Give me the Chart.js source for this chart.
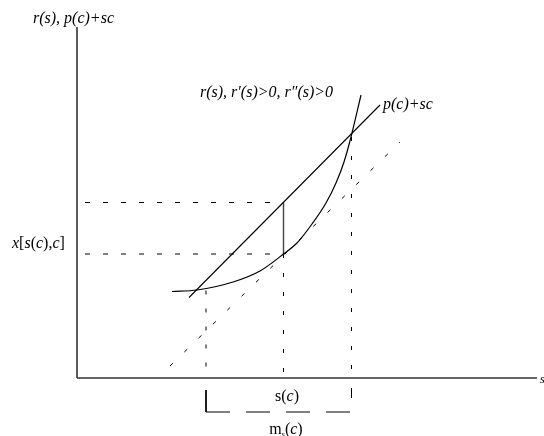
<!DOCTYPE html>
<html>
<head>
<meta charset="utf-8">
<script src="https://cdn.jsdelivr.net/npm/chart.js@4"></script>
<style>
  body { margin: 0; background: #fff; }
  canvas { display: block; }
</style>
</head>
<body>
<canvas id="myChart" width="544" height="436"></canvas>
<script>
// r(s): convex cost curve
const sValues = [9.5, 12.0, 15.6, 18.3, 20.65, 22.0, 23.5, 24.9, 25.9, 26.7, 27.4, 28.4];
const rValues = [8.65, 8.8, 9.6, 10.7, 12.4, 13.5, 15.4, 17.5, 19.5, 21.6, 24.1, 28.3];

// p(c)+sc straight line and its parallel tangent
const lineS = [11.2, 30.3];
const lineV = [8.05, 27.3];
const tangentS = [9.3, 32.3];
const tangentV = [1.2, 23.6];

// key points
const sc = 20.65;          // s(c)
const rAtSc = 12.4;        // r(s(c))
const lineAtSc = 17.55;    // p(c)+s(c)c
const sLow = 12.9;         // left intersection
const rLow = 8.75;
const sHigh = 27.45;       // right intersection
const rHigh = 24.1;
const sMax = 46.0;
const vMax = 35.1;
const bracketY = -3.4;

const pts = (xs, ys) => xs.map((x, i) => ({ x: x, y: ys[i] }));

const black = "#000";
const axisColor = "#333";

const datasets = [
  { data: pts([0, sMax], [0, 0]), borderColor: axisColor, borderWidth: 1.6 },
  { data: pts([0, 0], [0, vMax]), borderColor: axisColor, borderWidth: 1.6 },
  { data: pts(sValues, rValues), borderColor: black, borderWidth: 1.2, cubicInterpolationMode: "monotone" },
  { data: pts(lineS, lineV), borderColor: black, borderWidth: 1.1 },
  { data: pts(tangentS, tangentV), borderColor: black, borderWidth: 1, borderDash: [4, 16] },
  { data: pts([0.8, sc], [lineAtSc, lineAtSc]), borderColor: black, borderWidth: 1, borderDash: [5, 13] },
  { data: pts([0.8, sc], [rAtSc, rAtSc]), borderColor: black, borderWidth: 1, borderDash: [5, 13] },
  { data: pts([sc, sc], [rAtSc, lineAtSc]), borderColor: "#444", borderWidth: 1.4 },
  { data: pts([sc, sc], [rAtSc, -0.4]), borderColor: black, borderWidth: 1, borderDash: [4, 15] },
  { data: pts([sLow, sLow], [rLow, 0]), borderColor: black, borderWidth: 1, borderDash: [4, 14] },
  { data: pts([sHigh, sHigh], [rHigh, 0]), borderColor: black, borderWidth: 1, borderDash: [4, 15] },
  { data: pts([sLow, sLow], [-1.2, bracketY]), borderColor: black, borderWidth: 1 },
  { data: pts([sHigh, sHigh], [-1.0, -2.0]), borderColor: black, borderWidth: 1 },
  { data: pts([sLow, sHigh], [bracketY, bracketY]), borderColor: black, borderWidth: 1, borderDash: [24, 16] },
];
datasets.forEach((d) => {
  d.showLine = true;
  d.pointRadius = 0;
  d.fill = false;
});

const serif = "'Liberation Serif', 'DejaVu Serif', serif";
const it = (t, size) => [t, "italic " + (size || 16) + "px " + serif];
const up = (t, size, dy) => [t, (size || 16) + "px " + serif, dy];

const labels = [
  { x: -4.4, y: 36.0, align: "left", segs: [it("r(s), p(c)+sc")] },
  { x: 12.3, y: 28.6, align: "left", segs: [it("r(s), r\u2032(s)>0, r\u2033(s)>0")] },
  { x: 30.6, y: 27.4, align: "left", segs: [it("p(c)+sc")] },
  { x: -6.5, y: 13.5, align: "left", segs: [it("x"), up("["), it("s"), up("("), it("c"), up("),"), it("c"), up("]")] },
  { x: 21.0, y: -1.8, align: "center", segs: [up("s("), it("c"), up(")")] },
  { x: 20.9, y: -5.1, align: "center", segs: [up("m"), up("s", 8, 5), up("("), it("c"), up(")")] },
  { x: 46.3, y: -0.1, align: "left", segs: [it("s", 12)] },
];

const textPlugin = {
  id: "textLabels",
  afterDraw(chart) {
    const ctx = chart.ctx;
    const xs = chart.scales.x;
    const ys = chart.scales.y;
    ctx.save();
    ctx.fillStyle = "#000";
    ctx.textBaseline = "middle";
    ctx.textAlign = "left";
    labels.forEach((lb) => {
      let w = 0;
      lb.segs.forEach((s) => {
        ctx.font = s[1];
        w += ctx.measureText(s[0]).width;
      });
      let px = xs.getPixelForValue(lb.x);
      const py = ys.getPixelForValue(lb.y);
      if (lb.align === "center") px -= w / 2;
      lb.segs.forEach((s) => {
        ctx.font = s[1];
        ctx.fillText(s[0], px, py + 1 + (s[2] || 0));
        px += ctx.measureText(s[0]).width;
      });
    });
    ctx.restore();
  },
};

new Chart("myChart", {
  type: "scatter",
  data: { datasets: datasets },
  options: {
    responsive: false,
    animation: false,
    layout: { padding: 0 },
    plugins: {
      legend: { display: false },
      tooltip: { enabled: false },
    },
    scales: {
      x: { type: "linear", display: false, min: -7.7, max: 46.7 },
      y: { type: "linear", display: false, min: -5.8, max: 37.8 },
    },
  },
  plugins: [textPlugin],
});
</script>
</body>
</html>
